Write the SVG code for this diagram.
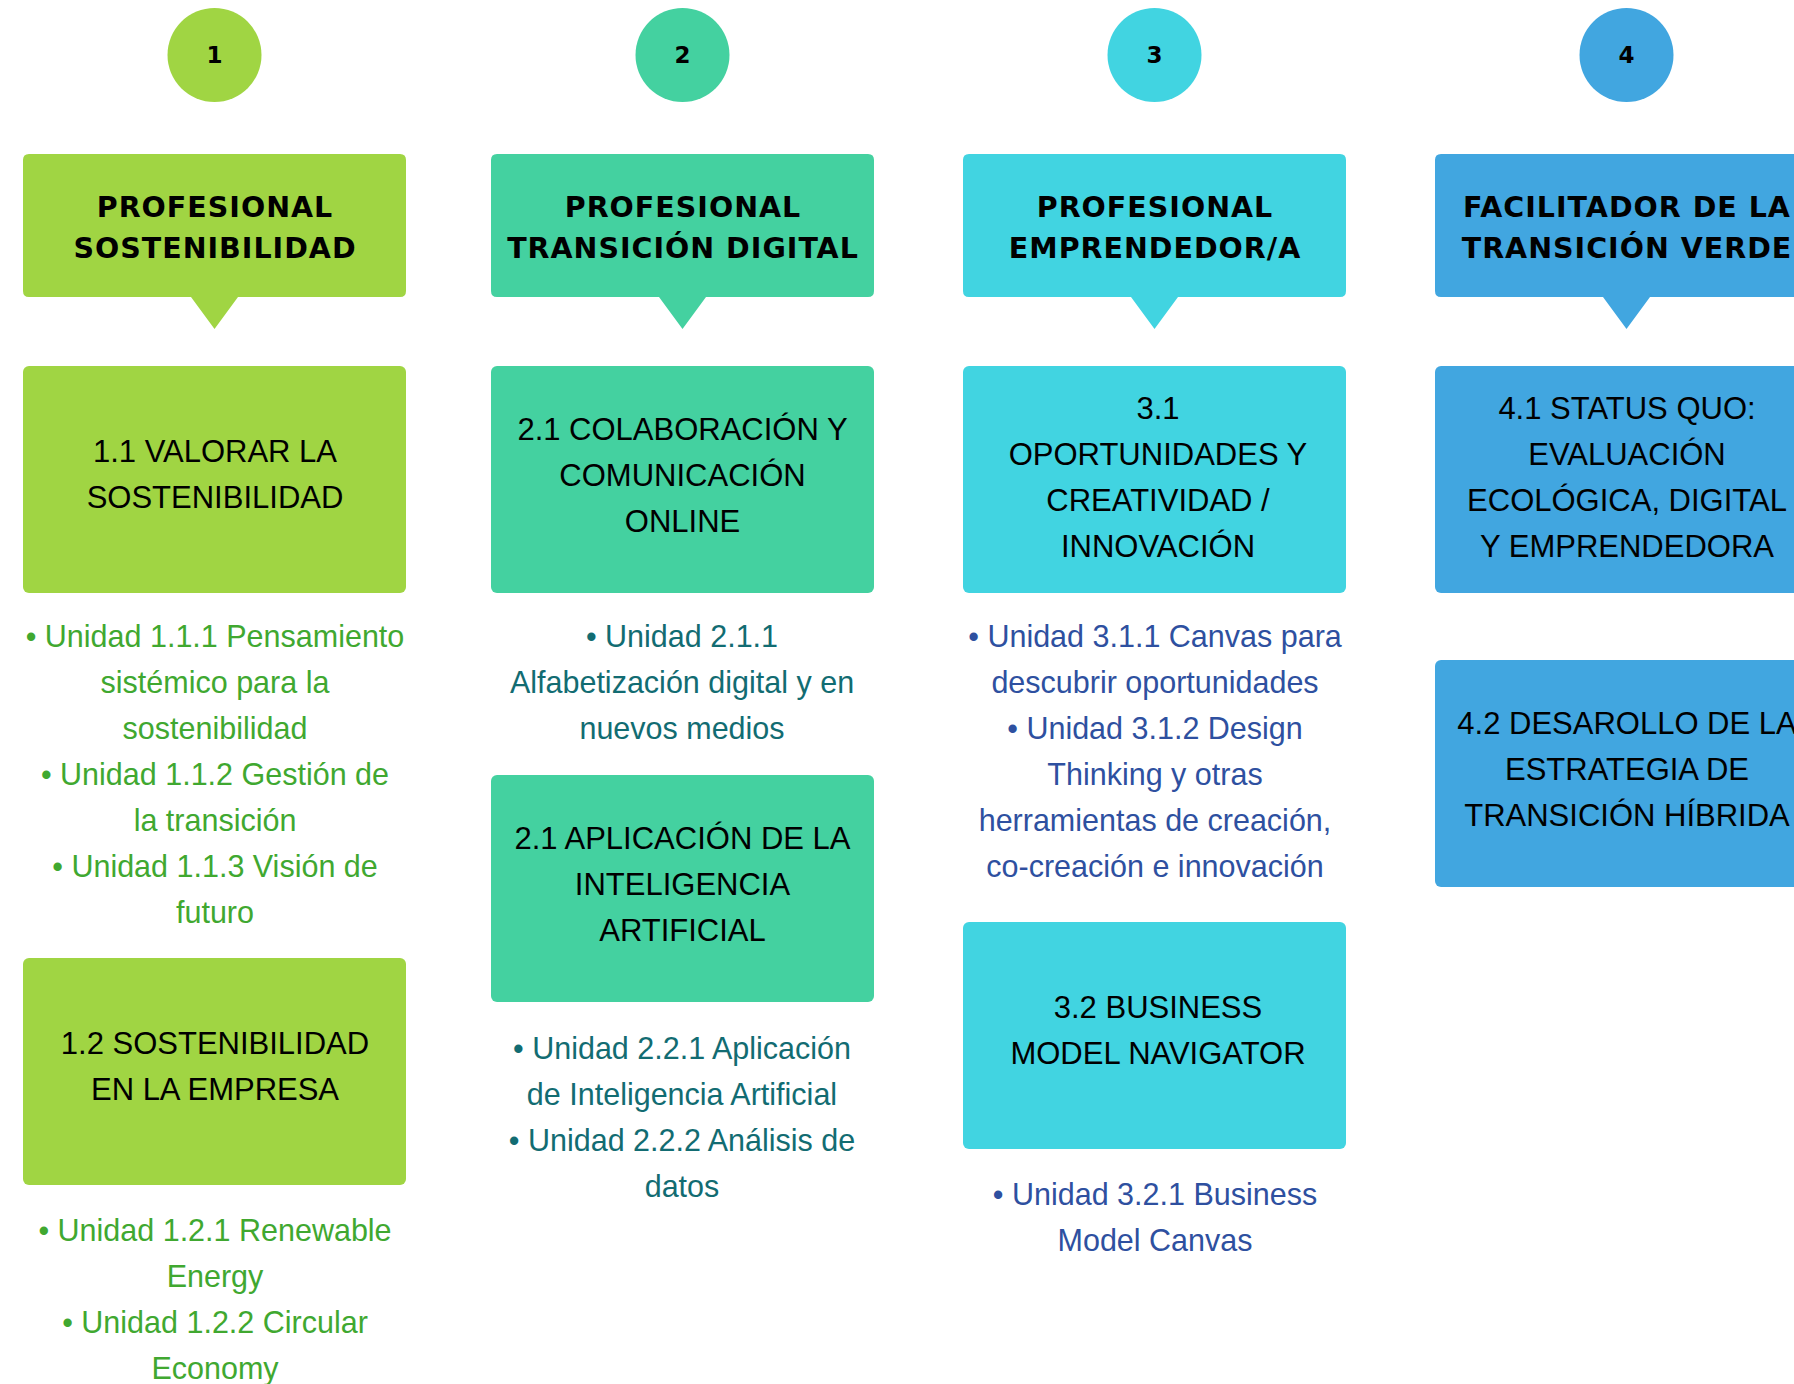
<svg xmlns="http://www.w3.org/2000/svg" xmlns:xlink="http://www.w3.org/1999/xlink" width="1794" height="1384" viewBox="0 0 1794 1384">
<defs>
<style>
.num{font-family:"DejaVu Sans",sans-serif;font-weight:bold;font-size:23px;fill:#000;text-anchor:middle}
.hdr{font-family:"DejaVu Sans",sans-serif;font-weight:bold;font-size:28.5px;letter-spacing:1px;fill:#000;text-anchor:middle}
.box{font-family:"Liberation Sans",Arial,sans-serif;font-size:31px;fill:#000;text-anchor:middle}
.bul{font-family:"Liberation Sans",Arial,sans-serif;font-size:30.5px;text-anchor:middle}
.c1{fill:#A0D543}.c2{fill:#44D1A0}.c3{fill:#41D4E1}.c4{fill:#41A6E0}
.t1{fill:#40A830}.t2{fill:#126C72}.t3{fill:#2E50A0}
</style>
<path id="hshape" d="M -185.5 154 H 185.5 Q 191.5 154 191.5 160 V 291 Q 191.5 297 185.5 297 H 23.5 L 0 329 L -23.5 297 H -185.5 Q -191.5 297 -191.5 291 V 160 Q -191.5 154 -185.5 154 Z"/>
</defs>
<rect width="1794" height="1384" fill="#fff"/>

<g id="col1">
<g id="circle1"><circle class="c1" cx="214.5" cy="55" r="47"/><text class="num" x="214.5" y="62.5">1</text></g>
<g id="header1"><use xlink:href="#hshape" href="#hshape" x="214.5" class="c1"/>
<text class="hdr" x="215" y="217">PROFESIONAL</text><text class="hdr" x="215" y="258">SOSTENIBILIDAD</text></g>
<g id="box1-1"><rect class="c1" x="23" y="366" width="383" height="227" rx="6"/>
<text class="box" x="215" y="462">1.1 VALORAR LA</text><text class="box" x="215" y="508">SOSTENIBILIDAD</text></g>
<g id="units1-1" class="bul t1">
<text x="215" y="647">• Unidad 1.1.1 Pensamiento</text>
<text x="215" y="693">sistémico para la</text>
<text x="215" y="739">sostenibilidad</text>
<text x="215" y="785">• Unidad 1.1.2 Gestión de</text>
<text x="215" y="831">la transición</text>
<text x="215" y="877">• Unidad 1.1.3 Visión de</text>
<text x="215" y="923">futuro</text>
</g>
<g id="box1-2"><rect class="c1" x="23" y="958" width="383" height="227" rx="6"/>
<text class="box" x="215" y="1054">1.2 SOSTENIBILIDAD</text><text class="box" x="215" y="1100">EN LA EMPRESA</text></g>
<g id="units1-2" class="bul t1">
<text x="215" y="1241">• Unidad 1.2.1 Renewable</text>
<text x="215" y="1287">Energy</text>
<text x="215" y="1333">• Unidad 1.2.2 Circular</text>
<text x="215" y="1379">Economy</text>
</g>
</g>

<g id="col2">
<g id="circle2"><circle class="c2" cx="682.5" cy="55" r="47"/><text class="num" x="682.5" y="62.5">2</text></g>
<g id="header2"><use xlink:href="#hshape" href="#hshape" x="682.5" class="c2"/>
<text class="hdr" x="683" y="217">PROFESIONAL</text><text class="hdr" x="683" y="258">TRANSICIÓN DIGITAL</text></g>
<g id="box2-1"><rect class="c2" x="491" y="366" width="383" height="227" rx="6"/>
<text class="box" x="682.5" y="440">2.1 COLABORACIÓN Y</text><text class="box" x="682.5" y="486">COMUNICACIÓN</text><text class="box" x="682.5" y="532">ONLINE</text></g>
<g id="units2-1" class="bul t2">
<text x="682" y="647">• Unidad 2.1.1</text>
<text x="682" y="693">Alfabetización digital y en</text>
<text x="682" y="739">nuevos medios</text>
</g>
<g id="box2-2"><rect class="c2" x="491" y="775" width="383" height="227" rx="6"/>
<text class="box" x="682.5" y="849">2.1 APLICACIÓN DE LA</text><text class="box" x="682.5" y="895">INTELIGENCIA</text><text class="box" x="682.5" y="941">ARTIFICIAL</text></g>
<g id="units2-2" class="bul t2">
<text x="682" y="1059">• Unidad 2.2.1 Aplicación</text>
<text x="682" y="1105">de Inteligencia Artificial</text>
<text x="682" y="1151">• Unidad 2.2.2 Análisis de</text>
<text x="682" y="1197">datos</text>
</g>
</g>

<g id="col3">
<g id="circle3"><circle class="c3" cx="1154.5" cy="55" r="47"/><text class="num" x="1154.5" y="62.5">3</text></g>
<g id="header3"><use xlink:href="#hshape" href="#hshape" x="1154.5" class="c3"/>
<text class="hdr" x="1155" y="217">PROFESIONAL</text><text class="hdr" x="1155" y="258">EMPRENDEDOR/A</text></g>
<g id="box3-1"><rect class="c3" x="963" y="366" width="383" height="227" rx="6"/>
<text class="box" x="1158" y="419">3.1</text><text class="box" x="1158" y="465">OPORTUNIDADES Y</text><text class="box" x="1158" y="511">CREATIVIDAD /</text><text class="box" x="1158" y="557">INNOVACIÓN</text></g>
<g id="units3-1" class="bul t3">
<text x="1155" y="647">• Unidad 3.1.1 Canvas para</text>
<text x="1155" y="693">descubrir oportunidades</text>
<text x="1155" y="739">• Unidad 3.1.2 Design</text>
<text x="1155" y="785">Thinking y otras</text>
<text x="1155" y="831">herramientas de creación,</text>
<text x="1155" y="877">co-creación e innovación</text>
</g>
<g id="box3-2"><rect class="c3" x="963" y="922" width="383" height="227" rx="6"/>
<text class="box" x="1158" y="1018">3.2 BUSINESS</text><text class="box" x="1158" y="1064">MODEL NAVIGATOR</text></g>
<g id="units3-2" class="bul t3">
<text x="1155" y="1205">• Unidad 3.2.1 Business</text>
<text x="1155" y="1251">Model Canvas</text>
</g>
</g>

<g id="col4">
<g id="circle4"><circle class="c4" cx="1626.5" cy="55" r="47"/><text class="num" x="1626.5" y="62.5">4</text></g>
<g id="header4"><use xlink:href="#hshape" href="#hshape" x="1626.5" class="c4"/>
<text class="hdr" x="1627" y="217">FACILITADOR DE LA</text><text class="hdr" x="1627" y="258">TRANSICIÓN VERDE</text></g>
<g id="box4-1"><rect class="c4" x="1435" y="366" width="383" height="227" rx="6"/>
<text class="box" x="1627" y="419">4.1 STATUS QUO:</text><text class="box" x="1627" y="465">EVALUACIÓN</text><text class="box" x="1627" y="511">ECOLÓGICA, DIGITAL</text><text class="box" x="1627" y="557">Y EMPRENDEDORA</text></g>
<g id="box4-2"><rect class="c4" x="1435" y="660" width="383" height="227" rx="6"/>
<text class="box" x="1627" y="734">4.2 DESAROLLO DE LA</text><text class="box" x="1627" y="780">ESTRATEGIA DE</text><text class="box" x="1627" y="826">TRANSICIÓN HÍBRIDA</text></g>
</g>

<g id="connectors"/>
</svg>
